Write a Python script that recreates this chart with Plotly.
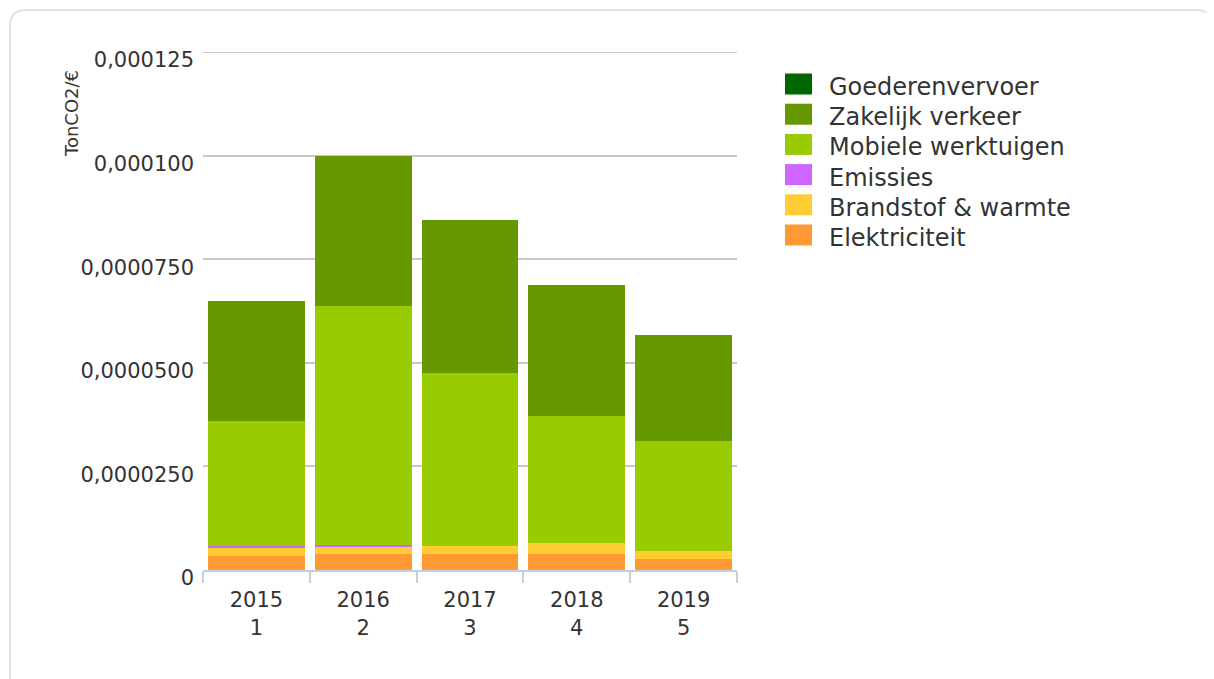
import plotly.graph_objects as go

# ---- data ----
years = ["2015", "2016", "2017", "2018", "2019"]
periods = ["1", "2", "3", "4", "5"]
series_names = ["Elektriciteit", "Brandstof & warmte", "Emissies",
                "Mobiele werktuigen", "Zakelijk verkeer", "Goederenvervoer"]
elektriciteit = [3.45e-6, 3.86e-6, 3.86e-6, 3.86e-6, 2.65e-6]
brandstof = [1.86e-6, 1.93e-6, 1.93e-6, 2.65e-6, 1.93e-6]
emissies = [0.56e-6, 0.24e-6, 0.0, 0.0, 0.0]
mobiele = [30.1e-6, 57.7e-6, 41.7e-6, 30.6e-6, 26.5e-6]
zakelijk = [28.96e-6, 36.2e-6, 36.9e-6, 31.6e-6, 25.6e-6]
goederen = [0.0, 0.0, 0.0, 0.0, 0.0]
series_values = [elektriciteit, brandstof, emissies, mobiele, zakelijk, goederen]
series_colors = ["#FF9933", "#FFCC33", "#CC66FF", "#99CC00", "#669900", "#006600"]
ytick_vals = [0, 0.000025, 0.00005, 0.000075, 0.0001, 0.000125]
ytick_text = ["0", "0,0000250", "0,0000500", "0,0000750", "0,000100", "0,000125"]

OFF = 8  # page body margin
W, H = 1214 - OFF, 679 - OFF
L, R, T, B = 203 - OFF, 737 - OFF, 52 - OFF, 570 - OFF
FONT = "DejaVu Sans"

def px(x):
    return (x - OFF - L) / (R - L)

def py(y):
    return (B - (y - OFF)) / (B - T)

cats = [f"{y}<br>{p}" for y, p in zip(years, periods)]

fig = go.Figure()
for name, vals, col in zip(series_names, series_values, series_colors):
    fig.add_trace(go.Bar(x=cats, y=vals, name=name, marker=dict(color=col, line=dict(width=0)),
                         width=0.905, showlegend=False))

shapes = []
annotations = []

# top gridline (at the edge of the range)
shapes.append(dict(type="line", xref="paper", yref="y", x0=0, x1=1,
                   y0=ytick_vals[-1], y1=ytick_vals[-1],
                   line=dict(color="#C8C8C8", width=2), layer="below"))

# card border (rounded rectangle)
x0, y0, x1, y1, r = 10, 10, 1212, 690, 16
path = (f"M {px(x0)},{py(y1)} L {px(x0)},{py(y0 + r)} "
        f"Q {px(x0)},{py(y0)} {px(x0 + r)},{py(y0)} "
        f"L {px(x1 - r)},{py(y0)} Q {px(x1)},{py(y0)} {px(x1)},{py(y0 + r)} L {px(x1)},{py(y1)}")
shapes.append(dict(type="path", xref="paper", yref="paper", path=path,
                   line=dict(color="#E3E3E3", width=2), layer="below"))

# legend (manual, top to bottom)
legend_order = list(zip(series_names, series_colors))[::-1]
for i, (name, col) in enumerate(legend_order):
    cy = 84 + i * 30.2
    shapes.append(dict(type="rect", xref="paper", yref="paper",
                       x0=px(785), x1=px(812), y0=py(cy - 10.5), y1=py(cy + 10.5),
                       fillcolor=col, line=dict(width=0)))
    annotations.append(dict(text=name, xref="paper", yref="paper", x=px(827), y=py(cy + 3),
                            xanchor="left", yanchor="middle", showarrow=False,
                            font=dict(size=24, color="#333333", family=FONT)))

# y axis title
annotations.append(dict(text="TonCO2/€", xref="paper", yref="paper", x=px(71), y=py(114),
                        textangle=-90, xanchor="center", yanchor="middle", showarrow=False,
                        font=dict(size=18, color="#333333", family=FONT)))

fig.update_layout(
    width=W, height=H,
    margin=dict(l=L, r=W - R, t=T, b=H - B, pad=0),
    barmode="stack",
    paper_bgcolor="white", plot_bgcolor="white",
    font=dict(family=FONT, color="#333333"),
    shapes=shapes, annotations=annotations,
    xaxis=dict(type="category", showgrid=False, showline=True, linecolor="#C0D0E0", linewidth=2,
               ticks="outside", tickson="boundaries", ticklen=11, tickcolor="#C0D0E0", tickwidth=2,
               ticklabelstandoff=10,
               tickfont=dict(size=21, color="#333333"), range=[-0.5, 4.5], fixedrange=True),
    yaxis=dict(range=[0, 0.000125], tickvals=ytick_vals, ticktext=ytick_text,
               showgrid=True, gridcolor="#C8C8C8", gridwidth=2, zeroline=False,
               showline=False, ticks="", ticklabelstandoff=8, ticklabelshift=8,
               tickfont=dict(size=21, color="#333333")),
)

fig.write_html("out.html")
